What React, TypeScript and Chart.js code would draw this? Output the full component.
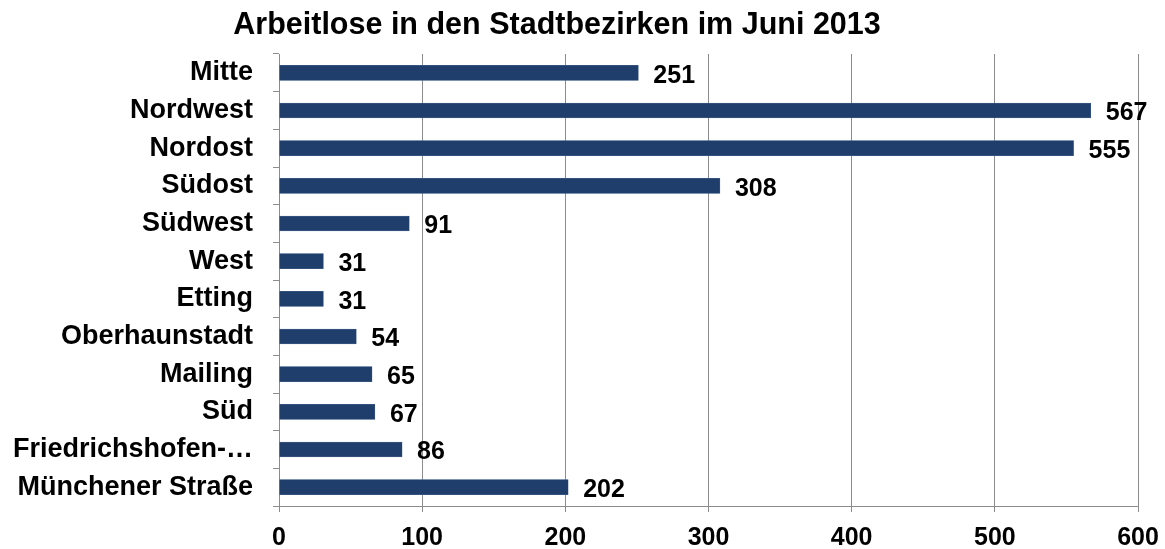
import React, { useEffect, useRef } from "react";
import { Chart, registerables } from "chart.js";

Chart.register(...registerables);

const TITLE = "Arbeitlose in den Stadtbezirken im Juni 2013";
const categories = [
  "Mitte",
  "Nordwest",
  "Nordost",
  "Südost",
  "Südwest",
  "West",
  "Etting",
  "Oberhaunstadt",
  "Mailing",
  "Süd",
  "Friedrichshofen-…",
  "Münchener Straße",
];
const values = [251, 567, 555, 308, 91, 31, 31, 54, 65, 67, 86, 202];
const xTicks = [0, 100, 200, 300, 400, 500, 600];

const FONT = "'Liberation Sans', Arial, sans-serif";
const BAR_COLOR = "#1F3E6C";

const labelPlugin = {
  id: "barLabels",
  afterDatasetsDraw(chart: any) {
    const ctx = chart.ctx;
    const meta = chart.getDatasetMeta(0);
    ctx.save();
    ctx.font = `bold 25px ${FONT}`;
    ctx.fillStyle = "#000";
    ctx.textAlign = "left";
    ctx.textBaseline = "middle";
    meta.data.forEach((bar: any, i: number) => {
      ctx.fillText(String(values[i]), bar.x + 15, bar.y + 3);
    });
    ctx.restore();
  },
};

const titlePlugin = {
  id: "customTitle",
  afterDraw(chart: any) {
    const ctx = chart.ctx;
    ctx.save();
    ctx.font = `bold 30.5px ${FONT}`;
    ctx.fillStyle = "#000";
    ctx.textAlign = "center";
    ctx.textBaseline = "middle";
    ctx.fillText(TITLE, 557, 26);
    ctx.restore();
  },
};

export default function App() {
  const canvasRef = useRef<HTMLCanvasElement | null>(null);

  useEffect(() => {
    document.body.style.margin = "0";
    const canvas = canvasRef.current;
    if (!canvas) return;
    const chart = new Chart(canvas, {
      type: "bar",
      data: {
        labels: categories,
        datasets: [
          {
            data: values,
            backgroundColor: BAR_COLOR,
            borderColor: "#4A6690",
            borderWidth: 0.5,
            barThickness: 15,
          },
        ],
      },
      options: {
        indexAxis: "y",
        responsive: false,
        animation: false,
        maintainAspectRatio: false,
        layout: { padding: { top: 54, right: 27, left: 0, bottom: 0 } },
        plugins: {
          legend: { display: false },
          title: { display: false },
          tooltip: { enabled: false },
        },
        scales: {
          x: {
            min: 0,
            max: 600,
            afterBuildTicks: (axis: any) => {
              axis.ticks = xTicks.map((v) => ({ value: v }));
            },
            afterFit: (axis: any) => {
              axis.height = 549 - 506;
              axis.paddingLeft = 0;
              axis.paddingRight = 0;
            },
            grid: {
              color: "#8C8C8C",
              lineWidth: 1,
              drawTicks: true,
              tickLength: 6,
            },
            border: { color: "#8C8C8C", width: 1 },
            ticks: {
              color: "#000",
              font: { family: FONT, size: 25, weight: "bold" },
              padding: 11,
              maxRotation: 0,
            },
          },
          y: {
            afterFit: (axis: any) => {
              axis.width = 279;
            },
            grid: {
              display: true,
              drawOnChartArea: false,
              drawTicks: true,
              tickLength: 6,
              color: "#8C8C8C",
              offset: true,
            },
            border: { color: "#8C8C8C", width: 1 },
            ticks: {
              color: "#000",
              font: { family: FONT, size: 27, weight: "bold" },
              padding: 20,
              autoSkip: false,
            },
          },
        },
      },
      plugins: [labelPlugin, titlePlugin],
    } as any);
    return () => chart.destroy();
  }, []);

  return (
    <div style={{ width: 1165, height: 549, background: "#fff" }}>
      <canvas ref={canvasRef} width={1165} height={549} />
    </div>
  );
}
